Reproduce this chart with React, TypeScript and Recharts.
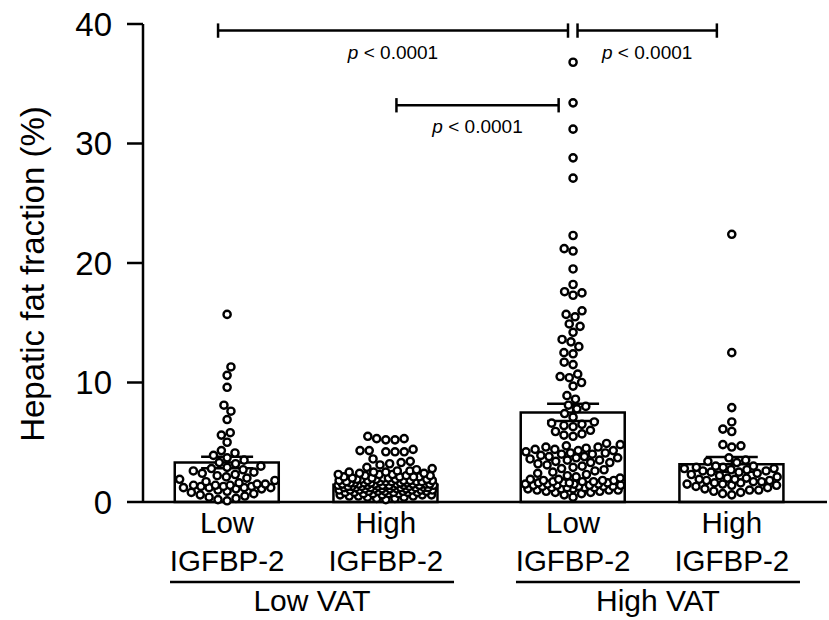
import React from "react";
import {
  ComposedChart,
  Bar,
  Scatter,
  ErrorBar,
  XAxis,
  YAxis,
  ReferenceLine,
} from "recharts";

// ---- data ----
const categories = [
  ["Low", "IGFBP-2"],
  ["High", "IGFBP-2"],
  ["Low", "IGFBP-2"],
  ["High", "IGFBP-2"],
];
const positions = [1, 2, 3.18, 4.18];
const groups = ["Low VAT", "High VAT"];
const groupPositions = [1.535, 3.715];
const yTicks = [0, 10, 20, 30, 40];

const means = [3.3, 1.45, 7.5, 3.15];
const sems = [0.48, 0.12, 0.72, 0.62];

const lowVatLowIgf = [
  15.7, 11.3, 10.6, 9.6, 8.1, 7.6, 6.9, 5.8, 5.6, 5.0, 4.3, 4.1,
  3.9, 3.7, 3.5, 3.3, 3.2, 3.0, 2.9, 2.8, 2.7, 2.6, 2.5, 2.4, 2.3, 2.2, 2.1, 2.0, 1.9, 1.8, 1.7, 1.6, 1.5,
  1.5, 1.4, 1.4, 1.4, 1.3, 1.3, 1.3, 1.2, 1.2, 1.2, 1.2, 1.1, 1.1,
  1.0, 0.9, 0.8, 0.7, 0.6, 0.5, 0.4, 0.3, 0.2, 0.1,
];

const lowVatHighIgf = [
  5.5, 5.3, 5.3, 5.2, 5.2, 4.4, 4.3, 4.3, 4.2, 4.2, 4.2, 3.6, 3.4, 3.3, 3.2, 3.1,
  2.9, 2.8, 2.7, 2.6, 2.6, 2.5, 2.5, 2.5,
  2.4, 2.4, 2.3, 2.3, 2.3, 2.2, 2.2, 2.2, 2.1, 2.1, 2.1, 2.1, 2.0, 2.0, 2.0, 2.0,
  1.9, 1.9, 1.9, 1.9, 1.9, 1.8, 1.8, 1.8, 1.8, 1.8, 1.7, 1.7, 1.7, 1.7, 1.7, 1.7,
  1.6, 1.6, 1.6, 1.6, 1.6, 1.6, 1.5, 1.5, 1.5, 1.5, 1.5, 1.5, 1.5,
  1.4, 1.4, 1.4, 1.4, 1.4, 1.4, 1.4, 1.3, 1.3, 1.3, 1.3, 1.3, 1.3, 1.3,
  1.2, 1.2, 1.2, 1.2, 1.2, 1.2, 1.2, 1.1, 1.1, 1.1, 1.1, 1.1, 1.1,
  1.0, 1.0, 1.0, 1.0, 1.0, 1.0, 0.9, 0.9, 0.9, 0.9, 0.9, 0.8, 0.8, 0.8, 0.8, 0.8,
  0.7, 0.7, 0.7, 0.7, 0.6, 0.6, 0.6, 0.6, 0.5, 0.5, 0.5, 0.4, 0.4, 0.3, 0.3, 0.2,
];

const highVatLowIgf = [
  36.8, 33.4, 31.2, 28.8, 27.1, 22.3, 21.2, 21.0, 19.5, 18.2, 17.6, 17.5, 17.3,
  16.0, 15.7, 15.5, 14.9, 14.7, 14.2, 13.6, 13.4, 13.0, 12.5, 12.4, 11.7, 11.5,
  10.7, 10.5, 10.4, 10.0, 9.7, 8.9, 8.6, 8.1, 8.0, 7.8, 7.4, 7.1,
  6.7, 6.6, 6.5, 6.4, 6.3, 6.0, 5.9, 5.7, 5.6, 5.5,
  4.9, 4.8, 4.7, 4.6, 4.6, 4.5, 4.4, 4.4, 4.3, 4.3, 4.2, 4.1, 4.1, 4.0, 4.0,
  3.9, 3.8, 3.8, 3.7, 3.7, 3.6, 3.5, 3.5, 3.4, 3.3, 3.3, 3.2, 3.1, 3.0, 2.9,
  2.8, 2.7, 2.6, 2.5, 2.4, 2.3, 2.2, 2.1, 2.0,
  1.9, 1.9, 1.8, 1.8, 1.8, 1.7, 1.7, 1.7, 1.6, 1.6, 1.6, 1.6, 1.5, 1.5, 1.5, 1.5,
  1.4, 1.4, 1.4, 1.4, 1.3, 1.3, 1.3, 1.3, 1.2, 1.2, 1.2, 1.2, 1.1, 1.1, 1.1,
  1.0, 1.0, 1.0, 0.9, 0.9, 0.8, 0.8, 0.7, 0.6, 0.4,
];

const highVatHighIgf = [
  22.4, 12.5, 7.9, 6.7, 6.1, 5.9, 4.8, 4.7, 4.6, 3.7, 3.5, 3.4, 3.3,
  3.0, 3.0, 2.9, 2.9, 2.8, 2.8, 2.7, 2.7, 2.6, 2.6, 2.5, 2.5, 2.4, 2.3, 2.2, 2.1,
  2.0, 2.0, 1.9, 1.9, 1.8, 1.8, 1.7, 1.7, 1.6, 1.6, 1.5, 1.5, 1.4, 1.4, 1.3,
  1.2, 1.1, 1.0, 1.0, 0.9, 0.8, 0.7, 0.6,
];

const brackets = [
  { x1: 0.943, x2: 3.148, y: 39.45 },
  { x1: 3.208, x2: 4.086, y: 39.45 },
  { x1: 2.067, x2: 3.089, y: 33.2 },
];
const pLabel = "< 0.0001";

// ---- layout ----
const W = 829;
const H = 620;
const MARGIN = { top: 24, right: 2, bottom: 0, left: 0 };
const Y_AXIS_W = 143;
const X_MIN = 0.47;
const X_MAX = 4.78;
const PLOT_W = W - MARGIN.right - Y_AXIS_W;
const PLOT_H = 478;
const PX_PER_X = PLOT_W / (X_MAX - X_MIN);
const PX_PER_Y = PLOT_H / 40;
const DOT_D = 9.2;
const HALF_SPAN = 48;
const FONT = "'Liberation Sans', Arial, Helvetica, sans-serif";

// simple deterministic beeswarm: push each dot sideways until it clears its neighbours
function swarm(values: number[], center: number) {
  const placed: { dx: number; py: number; v: number }[] = [];
  const sorted = [...values].sort((a, b) => a - b);
  sorted.forEach((v, i) => {
    const py = v * PX_PER_Y;
    let d = DOT_D;
    let chosen = 0;
    for (let k = 0; k < 30; k++) {
      const near = placed.filter((p) => Math.abs(p.py - py) < d);
      const cands = [0];
      near.forEach((p) => {
        const off = Math.sqrt(d * d - (p.py - py) ** 2);
        cands.push(p.dx + off, p.dx - off);
      });
      const side = i % 2 === 0 ? 1 : -1;
      cands.sort((a, b) => Math.abs(a) - Math.abs(b) || side * (b - a));
      const hit = cands.find(
        (c) =>
          Math.abs(c) <= HALF_SPAN &&
          near.every((p) => (p.dx - c) ** 2 + (p.py - py) ** 2 >= d * d - 0.01)
      );
      if (hit !== undefined) {
        chosen = hit;
        break;
      }
      d *= 0.9;
    }
    placed.push({ dx: chosen, py, v });
  });
  return placed.map((p) => ({ pos: center + p.dx / PX_PER_X, val: p.v }));
}

const series = [lowVatLowIgf, lowVatHighIgf, highVatLowIgf, highVatHighIgf];
const dotSets = series.map((vals, i) => swarm(vals, positions[i]));
const barData = positions.map((pos, i) => ({ pos, mean: means[i], sem: sems[i] }));
const xTicks = [...positions, ...groupPositions].sort((a, b) => a - b);

const Dot = (props: any) => (
  <circle cx={props.cx} cy={props.cy} r={3.6} fill="#fff" stroke="#000" strokeWidth={2.4} />
);

// category names under each bar, plus the VAT group rule + name
function CategoryTick({ x, y, payload }: any) {
  const gi = groupPositions.indexOf(payload.value);
  if (gi >= 0) {
    return (
      <g>
        <line x1={x - 142} x2={x + 142} y1={y + 80} y2={y + 80} stroke="#000" strokeWidth={2.5} />
        <text x={x} y={y + 109} textAnchor="middle" fontFamily={FONT} fontSize={30} fill="#000">
          {groups[gi]}
        </text>
      </g>
    );
  }
  const idx = positions.indexOf(payload.value);
  const [a, b] = categories[idx] ?? ["", ""];
  return (
    <g fontFamily={FONT} fontSize={29.5} fill="#000">
      <text x={x} y={y + 31} textAnchor="middle">{a}</text>
      <text x={x} y={y + 69} textAnchor="middle">{b}</text>
    </g>
  );
}

const bracketLabel = (props: any) => {
  const vb = props.viewBox ?? {};
  return (
    <text
      x={vb.x + vb.width / 2}
      y={vb.y + 28}
      textAnchor="middle"
      fontFamily={FONT}
      fontSize={19}
      fill="#000"
    >
      <tspan fontStyle="italic">p</tspan> {pLabel}
    </text>
  );
};

const yTitle = () => (
  <text
    transform="translate(32, 274) rotate(-90)"
    textAnchor="middle"
    dominantBaseline="central"
    fontFamily={FONT}
    fontSize={33}
    fill="#000"
  >
    Hepatic fat fraction (%)
  </text>
);

export default function App() {
  return (
    <div style={{ width: W, height: H, background: "#fff" }}>
      <style>{`body{margin:0;background:#fff}`}</style>
      <ComposedChart width={W} height={H} data={barData} margin={MARGIN}>
        <XAxis
          dataKey="pos"
          type="number"
          domain={[X_MIN, X_MAX]}
          allowDataOverflow
          ticks={xTicks}
          interval={0}
          tickLine={false}
          tickSize={0}
          tickMargin={0}
          axisLine={{ stroke: "#000", strokeWidth: 2.5 }}
          tick={<CategoryTick />}
          height={118}
        />
        <XAxis
          xAxisId="dots"
          dataKey="pos"
          type="number"
          domain={[X_MIN, X_MAX]}
          allowDataOverflow
          hide
        />
        <YAxis
          type="number"
          domain={[0, 40]}
          ticks={yTicks}
          interval={0}
          width={Y_AXIS_W}
          tickSize={16}
          tickMargin={15}
          tickLine={{ stroke: "#000", strokeWidth: 2.5 }}
          axisLine={{ stroke: "#000", strokeWidth: 2.5 }}
          tick={{ fontSize: 33, fill: "#000", fontFamily: FONT }}
          label={yTitle}
        />

        <Bar
          dataKey="mean"
          barSize={104}
          fill="#fff"
          stroke="#000"
          strokeWidth={2.5}
          isAnimationActive={false}
        />

        {dotSets.map((pts, i) => (
          <Scatter
            key={i}
            xAxisId="dots"
            data={pts}
            dataKey="val"
            shape={Dot}
            isAnimationActive={false}
          />
        ))}

        <Scatter data={barData} dataKey="mean" shape={() => <g />} isAnimationActive={false}>
          <ErrorBar dataKey="sem" direction="y" width={26} stroke="#000" strokeWidth={2.5} />
        </Scatter>

        {brackets.map((b, i) => (
          <ReferenceLine
            key={`b${i}`}
            segment={[
              { x: b.x1, y: b.y },
              { x: b.x2, y: b.y },
            ]}
            stroke="#000"
            strokeWidth={2.5}
            ifOverflow="visible"
            label={bracketLabel}
          />
        ))}
        {brackets.flatMap((b, i) =>
          [b.x1, b.x2].map((x, j) => (
            <ReferenceLine
              key={`c${i}-${j}`}
              segment={[
                { x, y: b.y - 0.6 },
                { x, y: b.y + 0.6 },
              ]}
              stroke="#000"
              strokeWidth={2.5}
              ifOverflow="visible"
            />
          ))
        )}
      </ComposedChart>
    </div>
  );
}
